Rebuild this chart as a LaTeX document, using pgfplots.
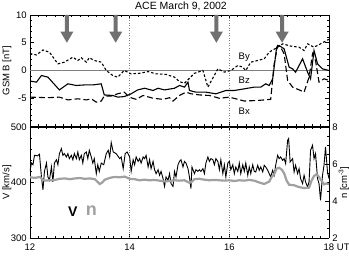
\documentclass[border=0pt]{standalone}
\usepackage{fontspec}
\setmainfont{Liberation Sans}
\usepackage{pgfplots}
\usepackage{pgfplotstable}
\pgfplotsset{compat=1.18}
\definecolor{arrowgray}{HTML}{707070}
\definecolor{ngray}{HTML}{A0A0A0}

\pgfplotstableread{
t v
12.00 3.1
12.03 3.0
12.13 2.8
12.26 3.7
12.39 3.3
12.56 1.2
12.69 1.5
12.86 2.4
12.96 1.8
13.03 2.3
13.13 1.5
13.19 2.3
13.29 1.8
13.43 1.5
13.53 0.0
13.66 -0.9
13.76 -1.2
13.89 0.0
14.03 -0.6
14.20 -0.5
14.37 -0.2
14.53 -0.6
14.73 -0.7
14.90 -1.2
15.00 -2.0
15.10 -2.3
15.20 -1.4
15.30 -0.5
15.47 0.0
15.57 -3.0
15.77 0.3
15.90 -0.3
16.03 0.0
16.17 0.9
16.27 0.6
16.33 0.0
16.43 1.5
16.57 1.8
16.70 2.1
16.80 3.3
16.97 4.2
17.07 4.8
17.23 4.4
17.40 4.2
17.50 3.6
17.57 4.8
17.70 4.2
17.83 4.8
17.97 5.5
18.00 5.6
}\By

\pgfplotstableread{
t v
12.00 -1.9
12.13 -2.1
12.23 -0.9
12.36 -1.2
12.59 -3.5
12.76 -2.4
12.93 -2.7
13.09 -2.6
13.26 -2.6
13.43 -2.4
13.49 -4.4
13.66 -4.5
13.76 -4.8
13.89 -4.7
14.03 -4.2
14.16 -3.5
14.30 -3.2
14.47 -3.6
14.57 -3.2
14.70 -3.5
14.90 -3.2
15.00 -2.7
15.10 -3.0
15.17 -2.1
15.20 -3.6
15.33 -3.9
15.53 -3.9
15.73 -4.2
15.93 -3.6
16.10 -3.6
16.30 -3.3
16.50 -3.0
16.63 -3.0
16.73 -2.4
16.80 -2.7
16.87 -1.5
16.95 4.2
17.00 4.5
17.10 3.9
17.20 0.6
17.27 0.3
17.33 -0.3
17.47 2.1
17.57 -0.3
17.63 -1.5
17.70 3.6
17.77 1.2
17.87 0.3
18.00 0.0
}\Bz

\pgfplotstableread{
t v
12.00 -4.8
12.36 -4.9
12.59 -4.8
12.76 -5.3
12.96 -5.1
13.13 -5.3
13.23 -5.1
13.33 -5.7
13.43 -5.5
13.49 -4.6
13.63 -4.6
13.76 -4.2
13.89 -3.9
13.99 -4.8
14.13 -5.2
14.27 -4.5
14.47 -5.0
14.67 -5.2
14.80 -4.9
14.87 -5.5
15.00 -4.5
15.13 -3.9
15.23 -4.2
15.40 -4.4
15.60 -4.5
15.80 -5.0
16.00 -4.8
16.30 -5.5
16.57 -5.4
16.83 -5.2
16.90 1.2
16.97 4.5
17.03 4.2
17.10 3.0
17.17 -1.8
17.27 -3.0
17.43 -3.6
17.50 -3.9
17.60 -1.2
17.67 3.0
17.73 1.8
17.80 -2.1
17.90 -1.5
18.00 -1.8
}\Bx

\pgfplotstableread{
t v
12.00 421
12.03 435
12.06 432
12.09 449
12.15 448
12.19 451
12.23 410
12.26 387
12.29 420
12.33 435
12.36 410
12.39 404
12.43 428
12.46 401
12.49 435
12.53 441
12.56 432
12.59 452
12.63 461
12.66 449
12.69 452
12.73 446
12.76 452
12.79 443
12.83 449
12.86 441
12.89 452
12.93 443
12.96 455
12.99 441
13.03 449
13.06 435
13.09 452
13.13 455
13.16 443
13.19 458
13.23 446
13.26 435
13.29 443
13.33 416
13.36 432
13.39 420
13.43 435
13.48 432
13.53 452
13.57 458
13.60 446
13.63 472
13.67 455
13.73 452
13.80 443
13.83 446
13.87 425
13.91 452
13.95 455
14.00 446
14.03 420
14.07 441
14.10 432
14.13 446
14.17 438
14.20 443
14.23 435
14.27 446
14.30 443
14.33 449
14.37 428
14.40 441
14.43 425
14.47 438
14.50 423
14.53 416
14.57 423
14.60 413
14.63 420
14.67 407
14.70 393
14.73 410
14.77 404
14.80 416
14.83 398
14.87 393
14.90 420
14.93 410
14.97 432
15.00 438
15.03 441
15.07 428
15.10 438
15.13 435
15.17 425
15.20 410
15.23 389
15.25 428
15.30 416
15.33 423
15.37 420
15.40 423
15.43 420
15.47 425
15.50 416
15.53 435
15.57 446
15.60 438
15.63 443
15.67 441
15.70 432
15.73 443
15.77 438
15.80 423
15.83 441
15.87 416
15.90 432
15.93 410
15.97 435
16.00 438
16.03 423
16.07 432
16.10 416
16.13 428
16.17 420
16.20 435
16.23 416
16.27 432
16.30 420
16.33 435
16.37 413
16.40 428
16.43 416
16.47 432
16.50 420
16.53 419
16.57 431
16.60 422
16.63 428
16.67 419
16.70 431
16.73 428
16.77 422
16.80 416
16.83 410
16.87 422
16.90 413
16.93 431
16.97 449
17.00 443
17.03 446
17.07 440
17.10 443
17.13 434
17.17 476
17.19 479
17.22 437
17.27 443
17.30 419
17.33 431
17.37 416
17.40 425
17.43 407
17.47 398
17.50 413
17.53 401
17.57 392
17.60 401
17.63 458
17.67 467
17.70 443
17.73 452
17.77 407
17.80 398
17.83 368
17.87 413
17.90 431
17.93 464
17.97 419
18.00 407
}\Vdat

\pgfplotstableread{
t v
12.00 5.28
12.10 5.25
12.20 5.30
12.25 5.15
12.30 5.10
12.40 5.12
12.50 5.14
12.60 5.20
12.70 5.22
12.80 5.18
12.90 5.22
13.00 5.24
13.10 5.20
13.20 5.22
13.30 5.18
13.35 5.05
13.40 4.92
13.45 5.00
13.50 5.15
13.60 5.25
13.70 5.30
13.80 5.28
13.90 5.32
14.00 5.20
14.10 5.18
14.20 5.12
14.30 5.15
14.40 5.12
14.50 5.14
14.60 5.10
14.70 5.05
14.80 5.08
14.90 5.12
15.00 5.10
15.10 5.12
15.20 4.98
15.25 5.05
15.30 5.18
15.40 5.20
15.50 5.15
15.60 5.12
15.70 5.14
15.80 5.12
15.90 5.10
16.00 5.12
16.10 5.08
16.20 5.12
16.30 5.10
16.40 5.14
16.50 5.10
16.60 5.00
16.70 4.92
16.80 5.05
16.85 5.30
16.90 5.45
16.95 5.75
17.00 5.80
17.05 5.70
17.10 5.50
17.15 5.10
17.20 4.88
17.30 4.85
17.40 4.75
17.50 4.70
17.60 4.72
17.65 5.10
17.70 5.35
17.75 5.45
17.80 5.30
17.85 5.10
17.90 4.90
17.95 4.95
18.00 4.90
}\Ndat

\newcommand{\garrow}[1]{%
  \fill[arrowgray] ([xshift=-2pt]axis cs:#1,10) -- ([xshift=2pt]axis cs:#1,10)
    -- ([xshift=2pt]axis cs:#1,7) -- ([xshift=6.5pt]axis cs:#1,7)
    -- (axis cs:#1,5) -- ([xshift=-6.5pt]axis cs:#1,7)
    -- ([xshift=-2pt]axis cs:#1,7) -- cycle;}

\begin{document}
\fontsize{9.5}{11}\selectfont
\begin{tikzpicture}
\useasboundingbox (0pt,0pt) rectangle (349pt,-259pt);
\pgfplotsset{
  panel/.style={
    scale only axis, width=299pt, height=111pt,
    xmin=12, xmax=18,
    xtick={12,14,16,18}, minor x tick num=11,
    tick align=inside, major tick length=4pt, minor tick length=2pt,
    axis line style={line width=0.6pt},
    every tick/.style={black, line width=0.5pt},
    tick label style={font=\fontsize{9.5}{11}\selectfont},
    label style={font=\fontsize{9.5}{11}\selectfont},
    /pgf/number format/assume math mode=true,
  }
}
% top panel
\begin{axis}[panel, at={(30pt,-126pt)}, anchor=south west,
  ymin=-10, ymax=10, ytick={-10,-5,0,5,10}, yticklabels={,-5,0,5,10},
  minor y tick num=4, xticklabels={},
  ylabel={GSM B [nT]},
  ylabel style={at={(axis description cs:-0.077,0.5)}, anchor=center},
]
\draw[gray, line width=0.7pt] (axis cs:12,0) -- (axis cs:18,0);
\draw[gray, dotted, line width=0.5pt] (axis cs:14,-10) -- (axis cs:14,10);
\draw[gray, dotted, line width=0.5pt] (axis cs:16,-10) -- (axis cs:16,10);
\garrow{12.74}
\garrow{13.72}
\garrow{15.74}
\garrow{17.06}
\addplot[black, line width=1.1pt, dash pattern=on 2.5pt off 2pt] table[x=t,y=v] {\By};
\addplot[black, line width=1.1pt] table[x=t,y=v] {\Bz};
\addplot[black, line width=1.1pt, dash pattern=on 6pt off 3pt] table[x=t,y=v] {\Bx};
\node at (axis cs:16.3,2.4) {By};
\node at (axis cs:16.3,-1.8) {Bz};
\node at (axis cs:16.3,-7.3) {Bx};
\end{axis}
% bottom panel, V
\begin{axis}[panel, at={(30pt,-238pt)}, anchor=south west,
  ymin=300, ymax=500, ytick={300,400,500}, minor y tick num=4,
  axis y line*=left,
  xticklabels={12,14,16,18\rlap{ UT}},
  xticklabel style={yshift=-3pt},
  ylabel={V [km/s]},
  ylabel style={at={(axis description cs:-0.077,0.5)}, anchor=center},
]
\draw[gray, dotted, line width=0.5pt] (axis cs:14,300) -- (axis cs:14,500);
\draw[gray, dotted, line width=0.5pt] (axis cs:16,300) -- (axis cs:16,500);
\addplot[black, line width=0.9pt] table[x=t,y=v] {\Vdat};
\node[font=\fontsize{14}{16}\selectfont\bfseries] at (axis cs:12.86,347) {V};
\node[font=\fontsize{18}{20}\selectfont\bfseries, text=ngray] at (axis cs:13.23,350) {n};
\end{axis}
% bottom panel, n
\begin{axis}[panel, at={(30pt,-238pt)}, anchor=south west,
  ymin=2, ymax=8, ytick={2,4,6,8}, minor y tick num=3,
  axis y line*=right, axis x line=none,
  ylabel={n [cm\textsuperscript{-3}]},
  ylabel style={at={(axis description cs:1.05,0.5)}, anchor=center},
]
\addplot[ngray, line width=2.2pt] table[x=t,y=v] {\Ndat};
\end{axis}
\node[anchor=base, inner sep=0pt, font=\fontsize{10.5}{12}\selectfont] at (181pt,-9.5pt) {ACE March 9, 2002};
\end{tikzpicture}
\end{document}
